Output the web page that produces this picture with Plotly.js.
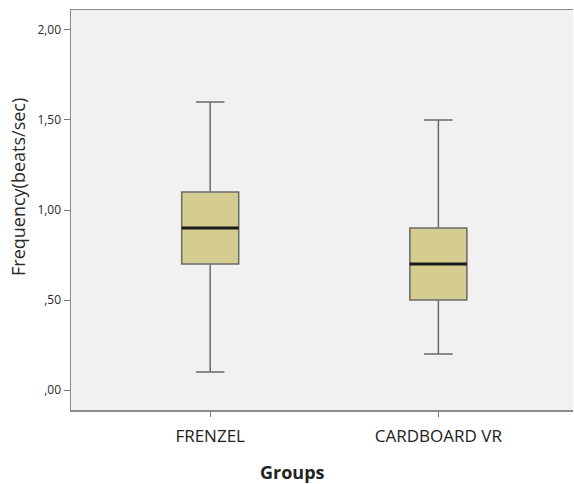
<!DOCTYPE html>
<html>
<head>
<meta charset="utf-8">
<script src="https://cdn.plot.ly/plotly-3.0.1.min.js"></script>
<style>
  html, body { margin: 0; padding: 0; background: #fff; }
  #chart { width: 574px; height: 484px; }
</style>
</head>
<body>
<div id="chart"></div>
<script>
// Heart-beat frequency per group (beats/sec): five-number summaries
const groups = ['FRENZEL', 'CARDBOARD VR'];
const lowerWhisker = [0.10, 0.20];
const quartile1 = [0.70, 0.50];
const medians = [0.90, 0.70];
const quartile3 = [1.10, 0.90];
const upperWhisker = [1.60, 1.50];

const yTickVals = [0, 0.5, 1, 1.5, 2];
const yTickText = [',00', ',50', '1,00', '1,50', '2,00'];

const BOX_W = 0.25;
const xPos = groups.map((g, i) => i);

const boxes = {
  type: 'box',
  x: xPos,
  lowerfence: lowerWhisker,
  q1: quartile1,
  median: medians,
  q3: quartile3,
  upperfence: upperWhisker,
  width: BOX_W,
  whiskerwidth: 0.5,
  boxpoints: false,
  fillcolor: 'rgb(212,205,143)',
  line: { color: '#6a6a6a', width: 1.5 },
  hoverinfo: 'skip',
  showlegend: false
};

// Heavy median bar drawn on top of each box
const mx = [], my = [];
xPos.forEach((x, i) => {
  mx.push(x - BOX_W / 2, x + BOX_W / 2, null);
  my.push(medians[i], medians[i], null);
});
const medianBars = {
  type: 'scatter',
  mode: 'lines',
  x: mx,
  y: my,
  line: { color: '#1a1a1a', width: 3 },
  hoverinfo: 'skip',
  showlegend: false
};

const layout = {
  width: 574,
  height: 484,
  margin: { l: 71, r: 1, t: 10, b: 74 },
  paper_bgcolor: '#ffffff',
  plot_bgcolor: '#f0f1f0',
  font: { family: 'Open Sans, sans-serif', color: '#222' },
  xaxis: {
    range: [-0.61, 1.59],
    tickvals: xPos,
    ticktext: groups,
    showgrid: false,
    zeroline: false,
    showline: true,
    mirror: true,
    linecolor: '#8a8a8a',
    linewidth: 1.5,
    ticks: 'outside',
    ticklen: 5,
    tickcolor: '#777',
    ticklabelstandoff: 5,
    tickfont: { size: 17, color: '#222' }
  },
  yaxis: {
    range: [-0.111, 2.111],
    tickvals: yTickVals,
    ticktext: yTickText,
    showgrid: false,
    zeroline: false,
    showline: true,
    linecolor: '#8a8a8a',
    linewidth: 1.5,
    ticks: 'outside',
    ticklen: 6,
    tickcolor: '#777',
    tickfont: { size: 12, color: '#2a2a2a' }
  },
  annotations: [
    {
      text: 'Frequency(beats/sec)',
      xref: 'paper', yref: 'paper',
      x: -0.1056, y: 0.5575,
      xanchor: 'center', yanchor: 'middle',
      textangle: -90,
      showarrow: false,
      font: { size: 18, color: '#2a2a2a' }
    },
    {
      text: '<b>Groups</b>',
      xref: 'paper', yref: 'paper',
      x: 0.442, y: -0.155,
      xanchor: 'center', yanchor: 'middle',
      showarrow: false,
      font: { size: 18, color: '#222' }
    }
  ]
};

Plotly.newPlot('chart', [boxes, medianBars], layout, { displayModeBar: false, staticPlot: true });
</script>
</body>
</html>
